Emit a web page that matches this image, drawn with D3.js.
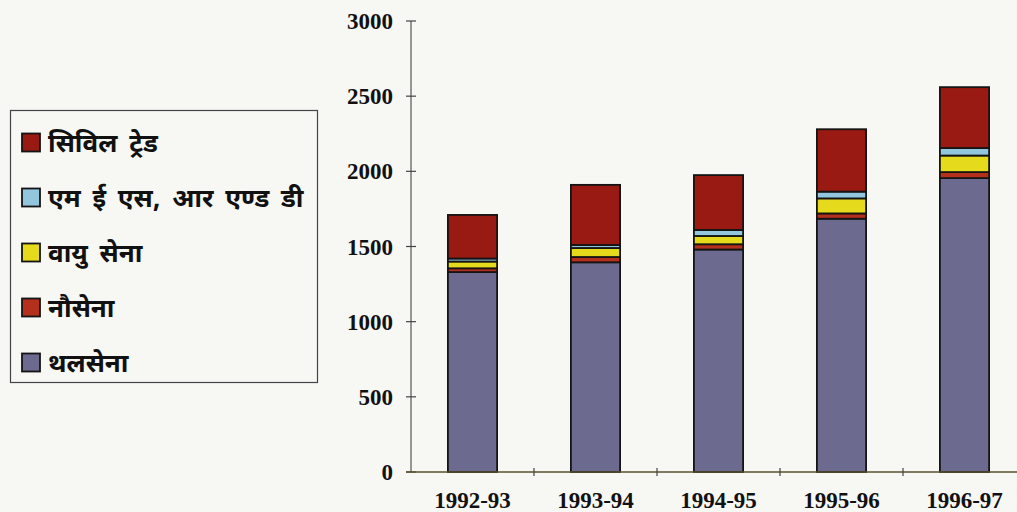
<!DOCTYPE html>
<html>
<head>
<meta charset="utf-8">
<script src="https://cdnjs.cloudflare.com/ajax/libs/d3/7.8.5/d3.min.js"></script>
<style>
  html, body { margin: 0; padding: 0; background: #f7f7f4; }
  svg { display: block; }
</style>
</head>
<body>
<svg id="chart" width="1017" height="512"></svg>
<script>
// Years on the category axis
const years = ["1992-93", "1993-94", "1994-95", "1995-96", "1996-97"];

// Stacked series, bottom to top
const thalsena = [1330, 1395, 1480, 1685, 1955];   // थलसेना
const nausena  = [25, 35, 35, 35, 40];              // नौसेना
const vayusena = [45, 60, 55, 100, 110];            // वायु सेना
const mesRD    = [20, 20, 40, 45, 50];              // एम ई एस, आर एण्ड डी
const civil    = [290, 400, 365, 415, 405];         // सिविल ट्रेड

const seriesNames = ["थलसेना", "नौसेना", "वायु सेना", "एम ई एस, आर एण्ड डी", "सिविल ट्रेड"];
const seriesColors = ["#6c6a8e", "#b5301c", "#e6da1c", "#92c6dc", "#981a12"];

const yTicks = [0, 500, 1000, 1500, 2000, 2500, 3000];

const seriesValues = [thalsena, nausena, vayusena, mesRD, civil];
const rows = years.map((y, i) => {
  const r = { year: y };
  seriesNames.forEach((n, k) => { r[n] = seriesValues[k][i]; });
  return r;
});

const svg = d3.select("#chart");

const x = d3.scaleBand().domain(years).range([411, 1026]).paddingInner(0.6).paddingOuter(0.3);
const y = d3.scaleLinear().domain([0, 3000]).range([472, 21]);

const stack = d3.stack().keys(seriesNames);
const layers = stack(rows);

// Bars
const g = svg.append("g");
layers.forEach((layer, k) => {
  g.selectAll(null)
    .data(layer)
    .enter()
    .append("rect")
    .attr("x", d => x(d.data.year))
    .attr("width", x.bandwidth())
    .attr("y", d => y(d[1]))
    .attr("height", d => y(d[0]) - y(d[1]))
    .attr("fill", seriesColors[k])
    .attr("stroke", "#141414")
    .attr("stroke-width", 1.8);
});

const serif = "'Liberation Serif', 'Times New Roman', serif";

// Y axis with ticks crossing the line
const yAxis = svg.append("g").attr("transform", "translate(411,0)");
yAxis.append("line")
  .attr("x1", 0).attr("x2", 0)
  .attr("y1", y(3000)).attr("y2", y(0))
  .attr("stroke", "#555").attr("stroke-width", 1.2);
yAxis.selectAll(".yt")
  .data(yTicks)
  .enter().append("line")
  .attr("x1", -5).attr("x2", 5)
  .attr("y1", d => y(d)).attr("y2", d => y(d))
  .attr("stroke", "#444").attr("stroke-width", 1.2);
yAxis.selectAll(".yl")
  .data(yTicks)
  .enter().append("text")
  .attr("x", -18)
  .attr("y", d => y(d))
  .attr("dy", "0.35em")
  .attr("text-anchor", "end")
  .attr("font-family", serif)
  .attr("font-weight", "bold")
  .attr("font-size", 23)
  .attr("fill", "#111")
  .text(d => d);

// X axis: baseline with ticks between categories
const xAxis = svg.append("g");
xAxis.append("line")
  .attr("x1", 406).attr("x2", 1017)
  .attr("y1", y(0)).attr("y2", y(0))
  .attr("stroke", "#5a5030").attr("stroke-width", 1.6);
const step = x.step();
xAxis.selectAll(".xt")
  .data(years.slice(1))
  .enter().append("line")
  .attr("x1", d => x(d) - step * x.paddingInner() / 2)
  .attr("x2", d => x(d) - step * x.paddingInner() / 2)
  .attr("y1", y(0) - 4).attr("y2", y(0) + 4)
  .attr("stroke", "#444").attr("stroke-width", 1.2);
xAxis.selectAll(".xl")
  .data(years)
  .enter().append("text")
  .attr("x", d => x(d) + x.bandwidth() / 2)
  .attr("y", 508)
  .attr("text-anchor", "middle")
  .attr("font-family", serif)
  .attr("font-weight", "bold")
  .attr("font-size", 23)
  .attr("fill", "#111")
  .text(d => d);

// Legend, top entry is the top of the stack
const legend = svg.append("g");
legend.append("rect")
  .attr("x", 10.5).attr("y", 110.5)
  .attr("width", 307).attr("height", 272)
  .attr("fill", "none").attr("stroke", "#444").attr("stroke-width", 1.2);
const legendOrder = d3.range(seriesNames.length).reverse();
legendOrder.forEach((k, i) => {
  const cy = 142.5 + i * 55;
  legend.append("rect")
    .attr("x", 22).attr("y", cy - 9)
    .attr("width", 18).attr("height", 18)
    .attr("fill", seriesColors[k])
    .attr("stroke", "#141414").attr("stroke-width", 1.8);
  legend.append("text")
    .attr("x", 48).attr("y", cy)
    .attr("dy", "0.35em")
    .attr("font-family", "'Noto Sans Devanagari', 'Noto Sans', 'Lohit Devanagari', sans-serif")
    .attr("font-weight", "bold")
    .attr("font-size", 26)
    .attr("word-spacing", 5)
    .attr("fill", "#111")
    .text(seriesNames[k]);
});
</script>
</body>
</html>
